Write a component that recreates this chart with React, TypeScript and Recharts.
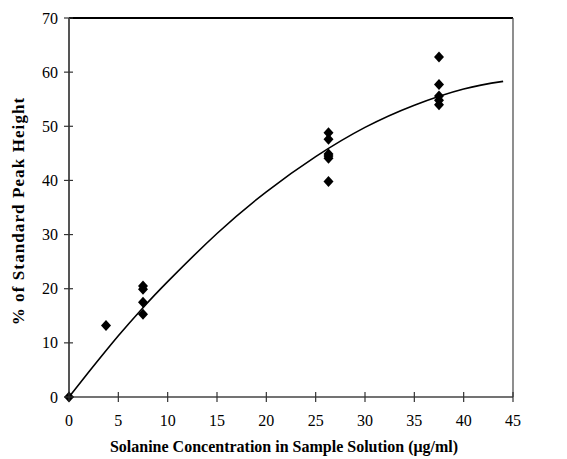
import { ComposedChart, Scatter, Line, XAxis, YAxis, ReferenceLine } from "recharts";

// measured points (diamonds)
const concX = [0, 3.75, 7.5, 7.5, 7.5, 7.5, 26.3, 26.3, 26.3, 26.3, 26.3, 26.3, 37.5, 37.5, 37.5, 37.5, 37.5];
const peakY = [0, 13.2, 20.5, 19.9, 17.5, 15.3, 48.8, 47.6, 44.9, 44.5, 44.1, 39.8, 62.8, 57.7, 55.6, 54.8, 54.0];

// fitted curve
const curveX = [0, 2, 5, 7.5, 10, 15, 20, 25, 30, 35, 40, 44];
const curveY = [0, 4.6, 11.3, 16.5, 21.3, 30.2, 37.9, 44.4, 49.8, 53.9, 56.9, 58.3];

const xTicks = [0, 5, 10, 15, 20, 25, 30, 35, 40, 45];
const yTicks = [0, 10, 20, 30, 40, 50, 60, 70];

const points = concX.map((x, i) => ({ x, y: peakY[i] }));
const curve = curveX.map((x, i) => ({ x, y: curveY[i] }));

const serif = "'Liberation Serif', 'Times New Roman', serif";

const Diamond = (props: any) => {
  const { cx, cy } = props;
  return <polygon points={`${cx},${cy - 5.5} ${cx + 5},${cy} ${cx},${cy + 5.5} ${cx - 5},${cy}`} fill="#000" />;
};

const YTick = ({ x, y, payload }: any) => (
  <g>
    <line x1={x - 5} x2={x + 4} y1={y} y2={y} stroke="#333" strokeWidth={1.2} />
    <text x={x - 11} y={y} textAnchor="end" dominantBaseline="central" fontSize={16} fontFamily={serif} fill="#000">
      {payload.value}
    </text>
  </g>
);

const XTick = ({ x, y, payload }: any) => (
  <g>
    <line x1={x} x2={x} y1={y - 5} y2={y + 5} stroke="#333" strokeWidth={1.2} />
    <text x={x} y={y + 29} textAnchor="middle" fontSize={16} fontFamily={serif} fill="#000">
      {payload.value}
    </text>
  </g>
);

export default function App() {
  return (
    <div style={{ position: "absolute", left: 0, top: 0, width: 567, height: 459, background: "#fff" }}>
      <ComposedChart width={567} height={459} margin={{ top: 18, right: 54, bottom: 12, left: 9 }}>
        <XAxis
          dataKey="x"
          type="number"
          domain={[0, 45]}
          ticks={xTicks}
          height={50}
          tickSize={0}
          tickMargin={0}
          tickLine={false}
          tick={<XTick />}
          axisLine={{ stroke: "#444", strokeWidth: 1.5 }}
        />
        <YAxis
          dataKey="y"
          type="number"
          domain={[0, 70]}
          ticks={yTicks}
          width={60}
          tickSize={0}
          tickMargin={0}
          tickLine={false}
          tick={<YTick />}
          axisLine={{ stroke: "#555", strokeWidth: 2 }}
        />
        <ReferenceLine y={70} stroke="#000" strokeWidth={2} />
        <ReferenceLine x={45} stroke="#444" strokeWidth={1.2} />
        <Line
          data={curve}
          dataKey="y"
          type="natural"
          stroke="#000"
          strokeWidth={1.6}
          dot={false}
          activeDot={false}
          isAnimationActive={false}
        />
        <Scatter data={points} dataKey="y" shape={<Diamond />} isAnimationActive={false} />
      </ComposedChart>
      <div
        style={{
          position: "absolute",
          left: 19,
          top: 211,
          transform: "translate(-50%, -50%) rotate(-90deg)",
          whiteSpace: "nowrap",
          fontFamily: serif,
          fontWeight: "bold",
          fontSize: 17,
          letterSpacing: 1.1,
        }}
      >
        % of Standard Peak Height
      </div>
      <div
        style={{
          position: "absolute",
          left: 284,
          top: 447,
          transform: "translate(-50%, -50%)",
          whiteSpace: "nowrap",
          fontFamily: serif,
          fontWeight: "bold",
          fontSize: 16,
        }}
      >
        Solanine Concentration in Sample Solution (μg/ml)
      </div>
    </div>
  );
}
